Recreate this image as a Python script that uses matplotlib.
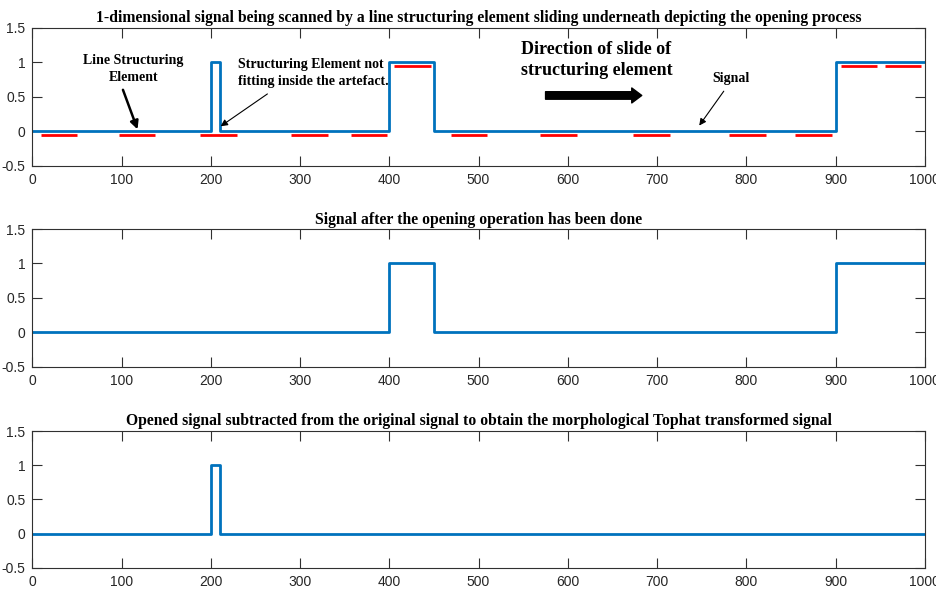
import matplotlib
matplotlib.use("Agg")
import matplotlib.pyplot as plt
from matplotlib.ticker import FuncFormatter

# step signals given as vertices (x, y)
signal_x = [0, 200, 200, 210, 210, 400, 400, 450, 450, 900, 900, 1000]
signal_y = [0, 0, 1, 1, 0, 0, 1, 1, 0, 0, 1, 1]
opened_x = [0, 400, 400, 450, 450, 900, 900, 1000]
opened_y = [0, 0, 1, 1, 0, 0, 1, 1]
tophat_x = [0, 200, 200, 210, 210, 1000]
tophat_y = [0, 0, 1, 1, 0, 0]

# line structuring element positions (start, end, level)
se_start = [10, 97, 188, 290, 357, 405, 469, 569, 673, 781, 855, 906, 955]
se_end = [50, 137, 229, 331, 398, 447, 509, 610, 714, 822, 896, 947, 996]
se_level = [-0.05, -0.05, -0.05, -0.05, -0.05, 0.95, -0.05, -0.05, -0.05,
            -0.05, -0.05, 0.95, 0.95]

titles = [
    "1-dimensional signal being scanned by a line structuring element sliding underneath depicting the opening process",
    "Signal after the opening operation has been done",
    "Opened signal subtracted from the original signal to obtain the morphological Tophat transformed signal",
]

blue = "#0072BD"
serif = ["Liberation Serif", "DejaVu Serif"]
sans = ["Liberation Sans", "DejaVu Sans"]

fig = plt.figure(figsize=(9.36, 5.95), dpi=100)
boxes = [(0.0345, 0.7215, 0.9535, 0.2315),
         (0.0345, 0.3837, 0.9535, 0.2313),
         (0.0345, 0.0459, 0.9535, 0.2297)]
axes = [fig.add_axes(b) for b in boxes]

axes[0].plot(signal_x, signal_y, color=blue, lw=2.0)
for s, e, lv in zip(se_start, se_end, se_level):
    axes[0].plot([s, e], [lv, lv], color="#FF0000", lw=2.0, solid_capstyle="butt")
axes[1].plot(opened_x, opened_y, color=blue, lw=2.0)
axes[2].plot(tophat_x, tophat_y, color=blue, lw=2.0)

for ax, t in zip(axes, titles):
    ax.set_xlim(0, 1000)
    ax.set_ylim(-0.5, 1.5)
    ax.set_xticks(range(0, 1001, 100))
    ax.set_yticks([-0.5, 0, 0.5, 1, 1.5])
    ax.yaxis.set_major_formatter(FuncFormatter(lambda v, p: "%g" % v))
    ax.tick_params(direction="in", length=7.5, width=0.8, color="#303030",
                   top=True, right=True, labelsize=10, pad=5)
    for lab in ax.get_xticklabels() + ax.get_yticklabels():
        lab.set_family(sans)
        lab.set_color("#262626")
    for sp in ax.spines.values():
        sp.set_color("#303030")
        sp.set_linewidth(0.8)
    ax.set_title(t, fontsize=11.3, fontweight="bold", family=serif, pad=4)

ax = axes[0]
ax.text(113, 0.9, "Line Structuring\nElement", ha="center", va="center",
        fontsize=10, fontweight="bold", family=serif, linespacing=1.4)
ax.annotate("", xy=(119, -0.01), xytext=(100.5, 0.64),
            arrowprops=dict(arrowstyle="-|>", color="black", lw=1.8,
                            mutation_scale=12))
ax.text(231, 0.85, "Structuring Element not\nfitting inside the artefact.",
        ha="left", va="center", fontsize=10, fontweight="bold", family=serif,
        linespacing=1.4)
ax.annotate("", xy=(208.5, 0.05), xytext=(266, 0.565),
            arrowprops=dict(arrowstyle="-|>", color="black", lw=0.8,
                            mutation_scale=10))
ax.text(548, 1.035, "Direction of slide of\nstructuring element", ha="left",
        va="center", fontsize=13, fontweight="bold", family=serif,
        linespacing=1.25)
ax.annotate("", xy=(686, 0.52), xytext=(572, 0.52),
            arrowprops=dict(arrowstyle="simple,head_length=0.6,head_width=0.9,tail_width=0.45",
                            color="black", mutation_scale=12))
ax.text(783, 0.76, "Signal", ha="center", va="center", fontsize=10,
        fontweight="bold", family=serif)
ax.annotate("", xy=(745.5, 0.05), xytext=(776.6, 0.615),
            arrowprops=dict(arrowstyle="-|>", color="black", lw=0.8,
                            mutation_scale=10))

fig.savefig("out.png", dpi=100)
